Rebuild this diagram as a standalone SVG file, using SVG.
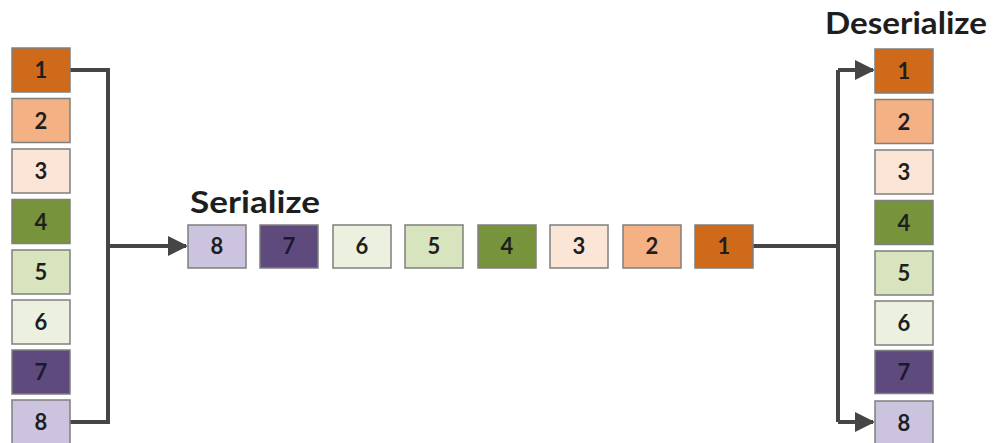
<svg xmlns="http://www.w3.org/2000/svg" width="994" height="443" viewBox="0 0 994 443">
<style>
.b{stroke:#7f7f7f;stroke-width:1.5}
.t{font-family:Lato,"Open Sans","Liberation Sans",sans-serif;font-weight:bold;font-size:22px;fill:#1e1e1e;text-anchor:middle}
.w{fill:#1a1a2e}
.h{font-family:Lato,"Open Sans","Liberation Sans",sans-serif;font-weight:bold;font-size:30px;fill:#1e1e1e}
.c{fill:none;stroke:#454545;stroke-width:4;stroke-linejoin:miter}
.c1{fill:#cf6a1b}.c2{fill:#f4b183}.c3{fill:#fbe5d6}.c4{fill:#77933c}.c5{fill:#d7e4bd}.c6{fill:#ebf1de}.c7{fill:#5f4a7e}.c8{fill:#ccc3de}
</style>
<defs>
<marker id="ah" markerWidth="5" markerHeight="5" refX="4.5" refY="2.5" orient="auto" markerUnits="strokeWidth">
<path d="M0,0 L5,2.5 L0,5 Z" fill="#454545"/>
</marker>
</defs>
<rect width="994" height="443" fill="#ffffff"/>
<g id="connectors">
<path class="c" d="M70,70 H108 V422 H70"/>
<path class="c" d="M108,246 H186" marker-end="url(#ah)"/>
<path class="c" d="M752,246 H838"/>
<path class="c" d="M838,70 V422"/>
<path class="c" d="M838,70 H873" marker-end="url(#ah)"/>
<path class="c" d="M838,422 H873" marker-end="url(#ah)"/>
</g>
<g id="left">
<g id="L1"><rect class="b c1" x="12" y="48" width="58" height="44"/><text class="t" x="41" y="78">1</text></g>
<g id="L2"><rect class="b c2" x="12" y="98.5" width="58" height="44"/><text class="t" x="41" y="128.5">2</text></g>
<g id="L3"><rect class="b c3" x="12" y="149" width="58" height="44"/><text class="t" x="41" y="179">3</text></g>
<g id="L4"><rect class="b c4" x="12" y="199.5" width="58" height="44"/><text class="t" x="41" y="229.5">4</text></g>
<g id="L5"><rect class="b c5" x="12" y="250" width="58" height="44"/><text class="t" x="41" y="280">5</text></g>
<g id="L6"><rect class="b c6" x="12" y="300" width="58" height="44"/><text class="t" x="41" y="330">6</text></g>
<g id="L7"><rect class="b c7" x="12" y="350" width="58" height="44"/><text class="t w" x="41" y="380">7</text></g>
<g id="L8"><rect class="b c8" x="12" y="400" width="58" height="44"/><text class="t" x="41" y="430">8</text></g>
</g>
<g id="serialize">
<text class="h" x="190" y="213" textLength="130" lengthAdjust="spacingAndGlyphs">Serialize</text>
<g id="S8"><rect class="b c8" x="188" y="225" width="58" height="43"/><text class="t" x="217" y="254">8</text></g>
<g id="S7"><rect class="b c7" x="260" y="225" width="58" height="43"/><text class="t w" x="289" y="254">7</text></g>
<g id="S6"><rect class="b c6" x="333" y="225" width="58" height="43"/><text class="t" x="362" y="254">6</text></g>
<g id="S5"><rect class="b c5" x="405" y="225" width="58" height="43"/><text class="t" x="434" y="254">5</text></g>
<g id="S4"><rect class="b c4" x="478" y="225" width="58" height="43"/><text class="t" x="507" y="254">4</text></g>
<g id="S3"><rect class="b c3" x="550" y="225" width="58" height="43"/><text class="t" x="579" y="254">3</text></g>
<g id="S2"><rect class="b c2" x="623" y="225" width="58" height="43"/><text class="t" x="652" y="254">2</text></g>
<g id="S1"><rect class="b c1" x="695" y="225" width="58" height="43"/><text class="t" x="724" y="254">1</text></g>
</g>
<g id="right">
<text class="h" x="825" y="34" textLength="162" lengthAdjust="spacingAndGlyphs">Deserialize</text>
<g id="R1"><rect class="b c1" x="875" y="49" width="58" height="44"/><text class="t" x="904" y="79">1</text></g>
<g id="R2"><rect class="b c2" x="875" y="99.5" width="58" height="44"/><text class="t" x="904" y="129.5">2</text></g>
<g id="R3"><rect class="b c3" x="875" y="150" width="58" height="44"/><text class="t" x="904" y="180">3</text></g>
<g id="R4"><rect class="b c4" x="875" y="200.5" width="58" height="44"/><text class="t" x="904" y="230.5">4</text></g>
<g id="R5"><rect class="b c5" x="875" y="251" width="58" height="44"/><text class="t" x="904" y="281">5</text></g>
<g id="R6"><rect class="b c6" x="875" y="301" width="58" height="44"/><text class="t" x="904" y="331">6</text></g>
<g id="R7"><rect class="b c7" x="875" y="350.5" width="58" height="43"/><text class="t w" x="904" y="380">7</text></g>
<g id="R8"><rect class="b c8" x="875" y="401" width="58" height="44"/><text class="t" x="904" y="431">8</text></g>
</g>
</svg>
